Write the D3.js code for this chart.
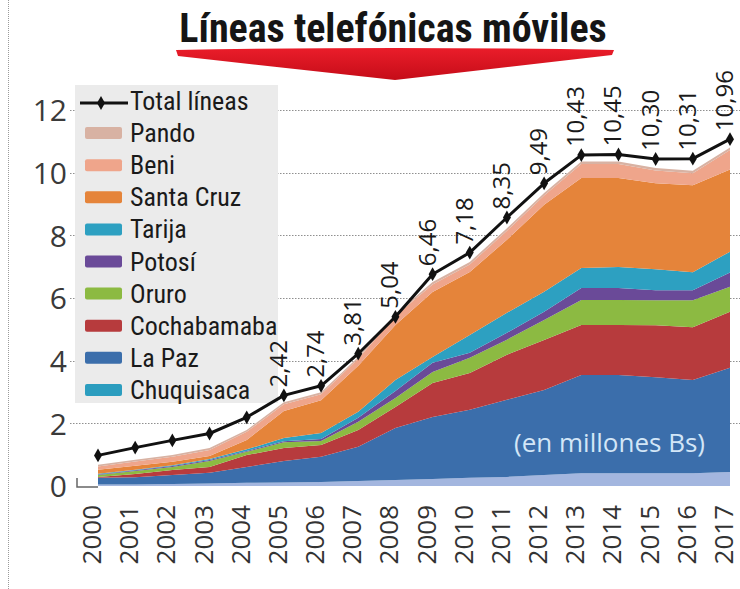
<!DOCTYPE html>
<html>
<head>
<meta charset="utf-8">
<script src="https://cdn.jsdelivr.net/npm/d3@7/dist/d3.min.js"></script>
<style>
  body { margin: 0; background: #fff; }
  svg { display: block; }
</style>
</head>
<body>
<svg id="chart" width="740" height="589"></svg>
<script>
// data (millions)
const years = [2000, 2001, 2002, 2003, 2004, 2005, 2006, 2007, 2008, 2009,
               2010, 2011, 2012, 2013, 2014, 2015, 2016, 2017];

const totalLines = [0.42, 0.68, 0.92, 1.15, 1.69, 2.42, 2.74, 3.81, 5.04, 6.46,
                    7.18, 8.35, 9.49, 10.43, 10.45, 10.30, 10.31, 10.96];
const firstLabelledYear = 2005;

const chuquisaca = [0.05, 0.05, 0.06, 0.08, 0.10, 0.11, 0.13, 0.16, 0.19, 0.22, 0.26, 0.29, 0.35, 0.41, 0.41, 0.41, 0.41, 0.45];
const laPaz      = [0.21, 0.23, 0.29, 0.34, 0.51, 0.69, 0.80, 1.09, 1.66, 1.98, 2.17, 2.46, 2.71, 3.13, 3.13, 3.06, 2.97, 3.32];
const cochabamba = [0.03, 0.10, 0.16, 0.19, 0.38, 0.41, 0.38, 0.54, 0.67, 1.09, 1.18, 1.44, 1.60, 1.60, 1.60, 1.66, 1.69, 1.79];
const oruro      = [0.06, 0.10, 0.10, 0.19, 0.10, 0.19, 0.13, 0.26, 0.29, 0.35, 0.48, 0.48, 0.64, 0.80, 0.80, 0.80, 0.86, 0.80];
const potosi     = [0.02, 0.02, 0.03, 0.03, 0.03, 0.03, 0.06, 0.13, 0.22, 0.29, 0.16, 0.22, 0.26, 0.38, 0.38, 0.32, 0.32, 0.45];
const tarija     = [0.02, 0.02, 0.02, 0.03, 0.05, 0.10, 0.19, 0.19, 0.35, 0.19, 0.57, 0.64, 0.64, 0.64, 0.67, 0.67, 0.57, 0.67];
const santaCruz  = [0.13, 0.13, 0.11, 0.10, 0.30, 0.86, 1.05, 1.47, 1.76, 2.07, 2.01, 2.33, 2.78, 2.87, 2.84, 2.74, 2.78, 2.62];
const beni       = [0.10, 0.13, 0.16, 0.19, 0.26, 0.22, 0.19, 0.22, 0.29, 0.24, 0.24, 0.29, 0.29, 0.45, 0.45, 0.41, 0.38, 0.62];
const pando      = [0.06, 0.06, 0.06, 0.06, 0.06, 0.06, 0.06, 0.06, 0.06, 0.08, 0.08, 0.08, 0.08, 0.08, 0.08, 0.08, 0.08, 0.08];

// bottom to top
const deptKeys   = ["chuquisaca", "laPaz", "cochabamba", "oruro", "potosi", "tarija", "santaCruz", "beni", "pando"];
const deptNames  = ["Chuquisaca", "La Paz", "Cochabamaba", "Oruro", "Potosí", "Tarija", "Santa Cruz", "Beni", "Pando"];
const deptValues = [chuquisaca, laPaz, cochabamba, oruro, potosi, tarija, santaCruz, beni, pando];
const areaColors   = ["#a3b6df", "#3b6eab", "#b73b3d", "#8cba42", "#6a4a98", "#2da0c1", "#e5843a", "#efa58b", "#d8b2a3"];
const legendColors = ["#2b9dbf", "#3b6eab", "#b73b3d", "#8cba42", "#6a4a98", "#2da0c1", "#e5843a", "#efa58b", "#d8b2a3"];

const yTicks = [0, 2, 4, 6, 8, 10, 12];

const rows = years.map((yr, i) => {
  const r = { year: yr };
  deptKeys.forEach((k, j) => r[k] = deptValues[j][i]);
  return r;
});

const svg = d3.select("#chart");

const x = d3.scalePoint().domain(years).range([98, 730]);
const y = d3.scaleLinear().domain([0, 12]).range([486, 110]);
// the black total line is drawn on its own, slightly shifted scale in the original
const yLine = d3.scaleLinear().domain([0, 12]).range([468, 108]);

// left dotted page border
svg.append("line")
  .attr("x1", 8.5).attr("x2", 8.5).attr("y1", 0).attr("y2", 589)
  .attr("stroke", "#9a9a9a").attr("stroke-dasharray", "1,1");

// title
svg.append("text")
  .attr("x", 393).attr("y", 42)
  .attr("text-anchor", "middle")
  .attr("font-family", "'Liberation Sans Narrow', 'Arial Narrow', 'Roboto Condensed', sans-serif")
  .attr("font-weight", "bold")
  .attr("font-size", 40)
  .attr("fill", "#151515")
  .text("Líneas telefónicas móviles");

const grad = svg.append("defs").append("linearGradient")
  .attr("id", "redGrad").attr("x1", 0).attr("y1", 0).attr("x2", 0).attr("y2", 1);
grad.append("stop").attr("offset", "0%").attr("stop-color", "#ea1d2a");
grad.append("stop").attr("offset", "100%").attr("stop-color", "#c50c18");

svg.append("path")
  .attr("d", "M176,50 Q395,46 614,50 L612,55 L395,80 L178,56 Z")
  .attr("fill", "url(#redGrad)");

// gridlines
svg.append("g")
  .selectAll("line")
  .data(yTicks.filter(d => d > 0))
  .join("line")
    .attr("x1", 70).attr("x2", 740)
    .attr("y1", d => Math.round(y(d)) + 0.5).attr("y2", d => Math.round(y(d)) + 0.5)
    .attr("stroke", "#8f8f8f").attr("stroke-width", 1)
    .attr("stroke-dasharray", "1.5,1.5");

// legend background
svg.append("rect")
  .attr("x", 75).attr("y", 85).attr("width", 203).attr("height", 318)
  .attr("fill", "#ebebeb");

// y axis labels
svg.append("g")
  .attr("transform", "translate(70,0)")
  .call(d3.axisLeft(y).tickValues(yTicks).tickSize(0).tickPadding(3))
  .call(g => g.select(".domain").remove())
  .call(g => g.selectAll("text")
    .attr("font-family", "'Open Sans', sans-serif")
    .attr("font-size", 30)
    .attr("fill", "#3a3a3a")
    .attr("dy", "0.36em"));

// zero corner
svg.append("path")
  .attr("d", `M77,${y(0) - 8}V${y(0) + 1}H98`)
  .attr("fill", "none").attr("stroke", "#666").attr("stroke-width", 1.5);

// stacked areas
const series = d3.stack().keys(deptKeys)(rows);
const area = d3.area()
  .x(d => x(d.data.year))
  .y0(d => y(d[0]))
  .y1(d => y(d[1]));

svg.append("g")
  .selectAll("path")
  .data(series)
  .join("path")
    .attr("fill", (d, i) => areaColors[i])
    .attr("d", area);

// note
svg.append("text")
  .attr("x", 705).attr("y", 452)
  .attr("text-anchor", "end")
  .attr("font-family", "'Open Sans', sans-serif")
  .attr("font-size", 26)
  .attr("fill", "#d3e6f7")
  .text("(en millones Bs)");

// total line
const line = d3.line()
  .x((d, i) => x(years[i]))
  .y(d => yLine(d));

svg.append("path")
  .datum(totalLines)
  .attr("fill", "none")
  .attr("stroke", "#111")
  .attr("stroke-width", 3)
  .attr("stroke-linejoin", "round")
  .attr("d", line);

const diamond = d3.symbol().type(d3.symbolDiamond).size(55);

svg.append("g")
  .selectAll("path")
  .data(totalLines)
  .join("path")
    .attr("transform", (d, i) => `translate(${x(years[i])},${yLine(d)})`)
    .attr("d", diamond)
    .attr("fill", "#111");

const fmt = v => d3.format(".2f")(v).replace(".", ",");

svg.append("g")
  .selectAll("text")
  .data(years.map((yr, i) => ({ yr, v: totalLines[i] })).filter(d => d.yr >= firstLabelledYear))
  .join("text")
    .attr("transform", d => `translate(${x(d.yr) + 3},${yLine(d.v) - 8}) rotate(-90)`)
    .attr("font-family", "'Open Sans', sans-serif")
    .attr("font-size", 24)
    .attr("fill", "#1a1a1a")
    .text(d => fmt(d.v));

// x axis labels
svg.append("g")
  .selectAll("text")
  .data(years)
  .join("text")
    .attr("transform", d => `translate(${x(d) + 3},505) rotate(-90)`)
    .attr("text-anchor", "end")
    .attr("font-family", "'Open Sans', sans-serif")
    .attr("font-size", 26)
    .attr("fill", "#333")
    .text(d => d);

// legend
const legendFont = "'Liberation Sans Narrow', 'Arial Narrow', 'Roboto Condensed', sans-serif";
const legend = svg.append("g");
const rowY = i => 101 + 32.1 * i;

legend.append("line")
  .attr("x1", 80).attr("x2", 128).attr("y1", rowY(0) + 2).attr("y2", rowY(0) + 2)
  .attr("stroke", "#111").attr("stroke-width", 3);
legend.append("path")
  .attr("transform", `translate(101,${rowY(0) + 2})`)
  .attr("d", diamond).attr("fill", "#111");
legend.append("text")
  .attr("x", 130).attr("y", rowY(0) + 9)
  .attr("font-family", legendFont).attr("font-size", 26).attr("fill", "#1a1a1a")
  .text("Total líneas");

const items = deptNames.map((n, i) => ({ name: n, color: legendColors[i] })).reverse();

const item = legend.selectAll("g.item")
  .data(items)
  .join("g")
    .attr("class", "item")
    .attr("transform", (d, i) => `translate(0,${rowY(i + 1)})`);

item.append("rect")
  .attr("x", 85).attr("y", -6).attr("width", 37).attr("height", 12).attr("rx", 2)
  .attr("fill", d => d.color);

item.append("text")
  .attr("x", 130).attr("y", 9)
  .attr("font-family", legendFont).attr("font-size", 26).attr("fill", "#1a1a1a")
  .text(d => d.name);
</script>
</body>
</html>
